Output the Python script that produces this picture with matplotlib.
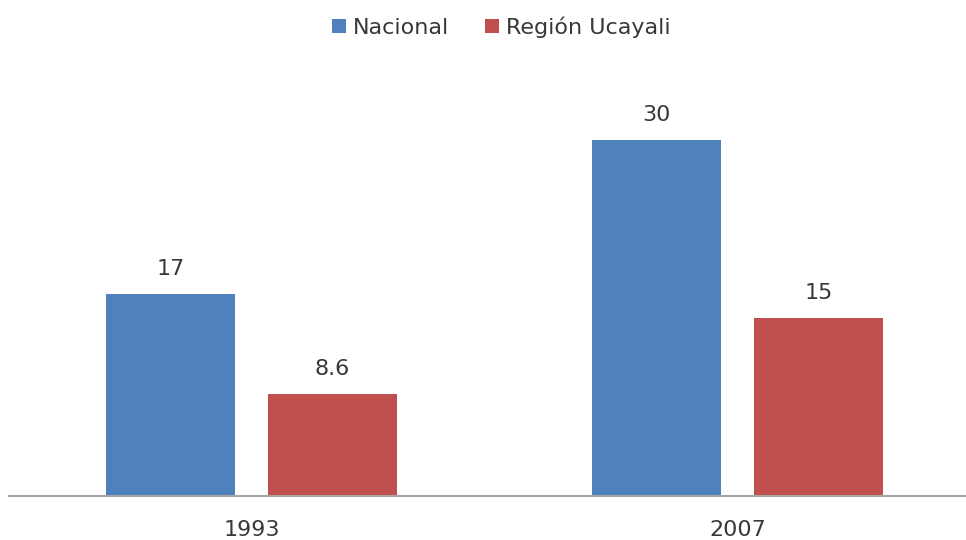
import matplotlib.pyplot as plt
import numpy as np

# data
years = ['1993', '2007']
nacional = [17, 30]
ucayali = [8.6, 15]
nacional_labels = ['17', '30']
ucayali_labels = ['8.6', '15']

plt.rcParams['font.family'] = ['DejaVu Sans']

fig = plt.figure(figsize=(9.66, 5.4), dpi=100)
fig.set_facecolor('w')
ax = fig.add_axes([8.5 / 966, 44 / 540, 972 / 966, 427 / 540])

x = np.arange(len(years))
w = 0.265
off = 0.1667
b1 = ax.bar(x - off, nacional, w, color='#4F81BD', label='Nacional')
b2 = ax.bar(x + off, ucayali, w, color='#C0504D', label='Región Ucayali')

for bars, labs in [(b1, nacional_labels), (b2, ucayali_labels)]:
    for rect, lab in zip(bars, labs):
        ax.annotate(lab, (rect.get_x() + rect.get_width() / 2, rect.get_height()),
                    xytext=(0, 11), textcoords='offset points', ha='center', va='bottom',
                    fontsize=16, color='#383838')

ax.set_xlim(-0.5, 1.5)
ax.set_ylim(0, 36)
ax.set_xticks(x)
ax.set_xticklabels(years, fontsize=16, color='#383838')
ax.tick_params(axis='x', length=0, pad=17)
ax.set_yticks([])
for s in ['top', 'right', 'left']:
    ax.spines[s].set_visible(False)
ax.spines['bottom'].set_color('#A6A6A6')
ax.spines['bottom'].set_linewidth(1.5)

fig.legend(handles=[b1, b2], loc='center', bbox_to_anchor=(501 / 966, 1 - 27 / 540), ncol=2,
           frameon=False, fontsize=16, handlelength=0.65, handleheight=0.65,
           handletextpad=0.3, columnspacing=1.6, labelcolor='#383838')

plt.savefig('out.png', dpi=100)
